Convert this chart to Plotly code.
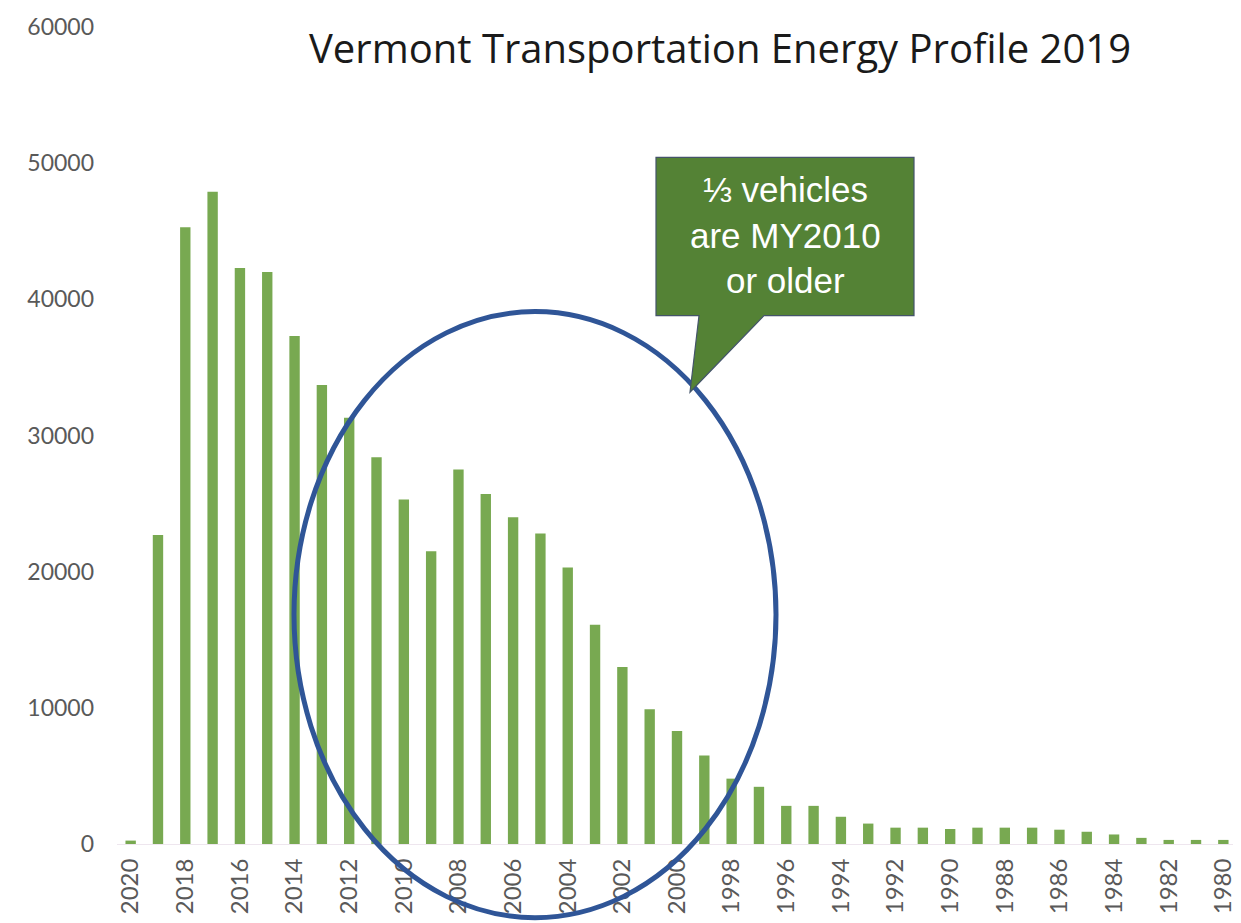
import plotly.graph_objects as go

years = [str(y) for y in range(2020, 1979, -1)]
vehicles = [250, 22700, 45300, 47900, 42300, 42000, 37300, 33700, 31300, 28400,
            25300, 21500, 27500, 25700, 24000, 22800, 20300, 16100, 13000, 9900,
            8300, 6500, 4800, 4200, 2800, 2800, 2000, 1500, 1200, 1200,
            1100, 1200, 1200, 1200, 1050, 900, 700, 450, 300, 300, 300]
tick_years = years[::2]
y_ticks = [0, 10000, 20000, 30000, 40000, 50000, 60000]

title_text = "Vermont Transportation Energy Profile 2019"
callout_text = "⅓ vehicles<br>are MY2010<br>or older"

OFF = 7  # page offset of the figure (body margin)
W, H = 1241 - 8, 923 - 8
# plot area in page pixels, converted to figure pixels
L, R, T, B = 116 - OFF, 1236 - OFF, 22 - OFF, 843 - OFF


def px(x):
    return (x - OFF - L) / (R - L)


def py(y):
    return (B - (y - OFF)) / (B - T)


fig = go.Figure()
fig.add_trace(go.Bar(x=years, y=vehicles, marker=dict(color="#78a951", line=dict(width=0)),
                     width=0.38, showlegend=False))

# ellipse
fig.add_shape(type="circle", xref="paper", yref="paper",
              x0=px(293), x1=px(775), y0=py(917), y1=py(308),
              line=dict(color="#2f5597", width=5), fillcolor="rgba(0,0,0,0)", layer="above")

# callout
pts = [(655, 153), (913, 153), (913, 312), (763, 312), (689, 389), (698, 312), (655, 312)]
path = "M " + " L ".join(f"{px(a):.5f},{py(b):.5f}" for a, b in pts) + " Z"
fig.add_shape(type="path", xref="paper", yref="paper", path=path,
              fillcolor="#548235", line=dict(color="#44546a", width=1.2), layer="above")
fig.add_annotation(xref="paper", yref="paper", x=px(784), y=py(231), text=callout_text,
                   showarrow=False, font=dict(family="Liberation Sans", size=35, color="white"),
                   align="center", xanchor="center", yanchor="middle")

fig.update_layout(
    width=W, height=H,
    margin=dict(l=L, r=W - R, t=T, b=H - B),
    plot_bgcolor="white", paper_bgcolor="white",
    title=dict(text=title_text, x=(719 - OFF) / W, y=1 - (48 - OFF) / H,
               xref="container", yref="container",
               xanchor="center", yanchor="middle",
               font=dict(family="Open Sans", size=40, color="#1a1a1a")),
    xaxis=dict(type="category", tickmode="array", tickvals=tick_years, ticktext=tick_years,
               tickangle=-90, showgrid=False, showline=True, linecolor="#eee6ee", linewidth=1,
               tickfont=dict(family="Lato", size=24, color="#595959"), ticks="",
               ticklabelstandoff=4, range=[-0.5, len(years) - 0.5]),
    yaxis=dict(range=[0, 60000], tickvals=y_ticks, showgrid=False, zeroline=False,
               showline=False, ticks="", tickformat="d",
               tickfont=dict(family="Lato", size=23, color="#595959"), ticklabelstandoff=22),
    bargap=0.6,
)

fig.write_html("out.html")
